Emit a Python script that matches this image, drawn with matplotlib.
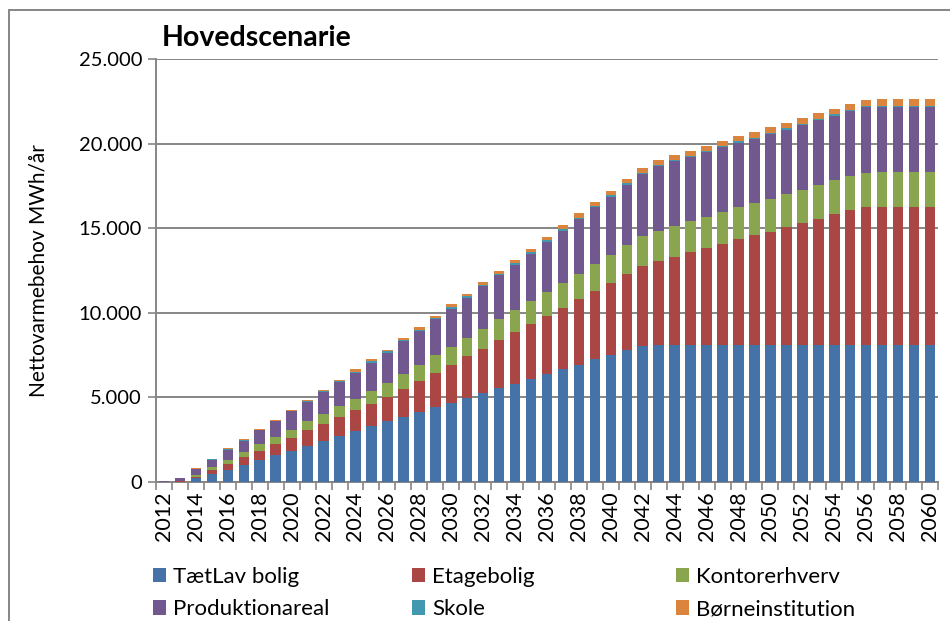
import matplotlib
matplotlib.use("Agg")
import matplotlib.pyplot as plt
import numpy as np
from matplotlib.patches import Rectangle, Patch
from matplotlib.ticker import FuncFormatter

plt.rcParams['font.family'] = ['Lato', 'DejaVu Sans']

# years on the x axis
years = list(range(2012, 2061))

# net heat demand per building type, MWh/year
taetlav = [10, 20, 220, 470, 730, 1030, 1300, 1580, 1860, 2150,
           2450, 2740, 3030, 3300, 3580, 3860, 4160, 4420, 4690, 4970,
           5270, 5560, 5800, 6090, 6390, 6670, 6930, 7240, 7500, 7800,
           8050] + [8110] * 18
etage = [5, 10, 80, 220, 340, 430, 560, 670, 770, 910,
         1000, 1120, 1230, 1310, 1450, 1630, 1820, 2030, 2250, 2450,
         2600, 2840, 3080, 3260, 3440, 3630, 3890, 4070, 4280, 4520,
         4740, 4960, 5210, 5490, 5740, 5980, 6240, 6470, 6690, 6950,
         7190, 7460, 7720, 7970] + [8130] * 5
kontor = [10, 20, 130, 180, 250, 320, 370, 420, 470, 520,
          580, 630, 670, 780, 810, 900, 960, 1030, 1050, 1120,
          1200, 1230, 1260, 1340, 1380, 1440, 1500, 1580, 1640, 1670,
          1760, 1790, 1820, 1830, 1840, 1880, 1890, 1900, 1950, 1950,
          1980, 1990, 2000, 2030, 2050] + [2090] * 4
produktion = [60, 180, 340, 450, 580, 670, 830, 930, 1070, 1140,
              1280, 1400, 1520, 1670, 1790, 1930, 1990, 2130, 2250, 2350,
              2490, 2580, 2700, 2800, 2980, 3120, 3210, 3350, 3450, 3590,
              3650, 3810, 3830, 3770, 3790, 3810, 3810, 3790, 3820, 3800,
              3820, 3840, 3820, 3820, 3860] + [3860] * 4
skole = [0, 0, 10, 20, 30, 30, 30, 30, 30, 40,
         50, 70, 80, 90, 90, 70, 80, 70, 80, 100,
         100, 110, 110, 110, 100, 80, 100, 80, 100, 80,
         70, 80, 70, 90, 80, 70, 80, 80, 70, 90,
         80, 80, 80, 80, 70] + [60] * 4
boern = [0, 10, 20, 40, 50, 60, 40, 60, 60, 70,
         60, 90, 130, 100, 100, 120, 150, 140, 180, 150,
         150, 170, 190, 180, 180, 230, 240, 240, 250, 270,
         290, 280, 290, 300, 320, 320, 320, 330, 330, 330,
         340, 330, 340, 350, 360] + [370] * 4

series = [
    ("TætLav bolig", taetlav, "#4572A7"),
    ("Etagebolig", etage, "#AA4643"),
    ("Kontorerhverv", kontor, "#89A54E"),
    ("Produktionareal", produktion, "#71588F"),
    ("Skole", skole, "#4198AF"),
    ("Børneinstitution", boern, "#DB843D"),
]

fig = plt.figure(figsize=(9.5, 6.21), dpi=100)
ax = fig.add_axes([156 / 950, 1 - 482 / 621, 782 / 950, 423 / 621])

x = np.arange(len(years))
bottom = np.zeros(len(years))
for name, vals, col in series:
    vals = np.array(vals, dtype=float)
    ax.bar(x, vals, width=0.66, bottom=bottom, color=col, label=name,
           edgecolor='none', zorder=3)
    bottom += vals

grid_col = '#868686'
ax.set_xlim(-0.5, len(years) - 0.5)
ax.set_ylim(0, 25000)
ax.set_yticks(np.arange(0, 25001, 5000))
ax.yaxis.set_major_formatter(FuncFormatter(lambda v, p: f"{int(v):,}".replace(",", ".")))
ax.grid(axis='y', color=grid_col, linewidth=1.4, zorder=0)

ax.set_xticks(x[::2])
ax.set_xticklabels([str(y) for y in years[::2]], rotation=90)
ax.set_xticks(np.arange(-0.5, len(years), 1), minor=True)
ax.tick_params(axis='x', which='major', length=0, pad=7, labelsize=15.5)
ax.tick_params(axis='x', which='minor', length=6, width=1.2, color=grid_col)
ax.tick_params(axis='y', length=6, width=1.2, color=grid_col, labelsize=14.5, pad=4)

for s in ['top', 'right']:
    ax.spines[s].set_visible(False)
for s in ['left', 'bottom']:
    ax.spines[s].set_color(grid_col)
    ax.spines[s].set_linewidth(1.4)

ax.set_ylabel("Nettovarmebehov MWh/år", fontsize=15)
ax.yaxis.set_label_coords(-0.138, 0.5)

fig.text(162 / 950, 1 - 38 / 621, "Hovedscenarie", fontsize=20.5,
         fontweight='bold', va='center', ha='left')

# legend: three columns of two entries
cols = [[0, 3], [1, 4], [2, 5]]
col_x = [142 / 950, 401 / 950, 665 / 950]
for cx, idx in zip(col_x, cols):
    handles = [Patch(facecolor=series[i][2], edgecolor='none') for i in idx]
    labels = [series[i][0] for i in idx]
    leg = fig.legend(handles, labels, loc='upper left',
                     bbox_to_anchor=(cx, 1 - 556 / 621), frameon=False,
                     fontsize=16, handlelength=0.6, handleheight=0.6,
                     handletextpad=0.3, labelspacing=0.55, borderpad=0)

# chart border
fig.patches.append(Rectangle((9 / 950, -0.1), 1.2, 1.1 - 10 / 621,
                             transform=fig.transFigure, fill=False,
                             edgecolor=grid_col, linewidth=1.4))

fig.savefig("out.png", dpi=100)
